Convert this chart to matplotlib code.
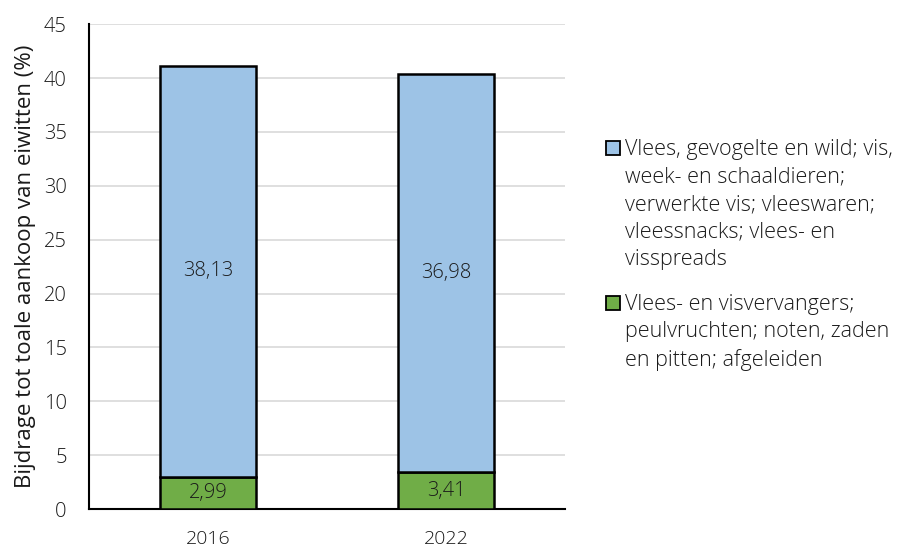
import matplotlib
matplotlib.use("Agg")
import matplotlib.pyplot as plt
from matplotlib.patches import Rectangle
import numpy as np

# data
years = ["2016", "2022"]
plantaardig = [2.99, 3.41]
dierlijk = [38.13, 36.98]
labels = [
    "Vlees, gevogelte en wild; vis,\nweek- en schaaldieren;\nverwerkte vis; vleeswaren;\nvleessnacks; vlees- en\nvisspreads",
    "Vlees- en visvervangers;\npeulvruchten; noten, zaden\nen pitten; afgeleiden",
]
yticks = list(range(0, 50, 5))

plt.rcParams["font.family"] = ["Open Sans", "DejaVu Sans"]
plt.rcParams["font.size"] = 14
plt.rcParams["font.weight"] = "light"

BLUE = "#9DC3E6"
GREEN = "#70AD47"
TXT = "#1a1a1a"

fig = plt.figure(figsize=(9.09, 5.5), dpi=100)
ax = fig.add_axes([0.098, 0.0745, 0.5236, 0.8815])

x = np.arange(len(years))
w = 0.40
b1 = ax.bar(x, plantaardig, w, color=GREEN, edgecolor="black", linewidth=1.8, zorder=3)
b2 = ax.bar(x, dierlijk, w, bottom=plantaardig, color=BLUE, edgecolor="black",
            linewidth=1.8, zorder=3)

for i in range(len(years)):
    ax.text(x[i], plantaardig[i] / 2, f"{plantaardig[i]:.2f}".replace(".", ","),
            ha="center", va="center", fontsize=14.5, color=TXT, zorder=4)
    ax.text(x[i], plantaardig[i] + dierlijk[i] / 2, f"{dierlijk[i]:.2f}".replace(".", ","),
            ha="center", va="center", fontsize=14.5, color=TXT, zorder=4)

ax.set_xlim(-0.5, 1.5)
ax.set_ylim(0, 45)
ax.set_yticks(yticks)
ax.set_xticks(x)
ax.set_xticklabels(years)
ax.yaxis.grid(True, color="#D9D9D9", linewidth=1.2, zorder=0)
ax.set_axisbelow(True)
for s in ["top", "right"]:
    ax.spines[s].set_visible(False)
ax.spines["left"].set_linewidth(1.5)
ax.spines["bottom"].set_linewidth(1.5)
ax.tick_params(axis="y", length=0, pad=16, labelsize=14.5, labelcolor=TXT)
ax.tick_params(axis="x", length=0, pad=15, labelsize=14, labelcolor=TXT)
ax.set_ylabel("Bijdrage tot toale aankoop van eiwitten (%)", fontsize=16,
              labelpad=6, color=TXT)

# legend, drawn by hand so the squares sit on the first text line
W, H = 909, 550
colors = [BLUE, GREEN]
first_base = [157, 312]   # px from top, baseline of first text line
pitch = 27                # px between text lines
for lab, col, yb in zip(labels, colors, first_base):
    n = lab.count("\n")
    fig.add_artist(Rectangle((606 / W, 1 - (yb - 2) / H), 14 / W, 14 / H,
                             transform=fig.transFigure, facecolor=col,
                             edgecolor="black", linewidth=1.3))
    # va="baseline" anchors the last line, so shift down by the extra lines
    fig.text(625 / W, 1 - (yb + n * pitch) / H, lab, ha="left", va="baseline",
             fontsize=15.5, linespacing=1.4, color=TXT)

fig.savefig("out.png", dpi=100)
